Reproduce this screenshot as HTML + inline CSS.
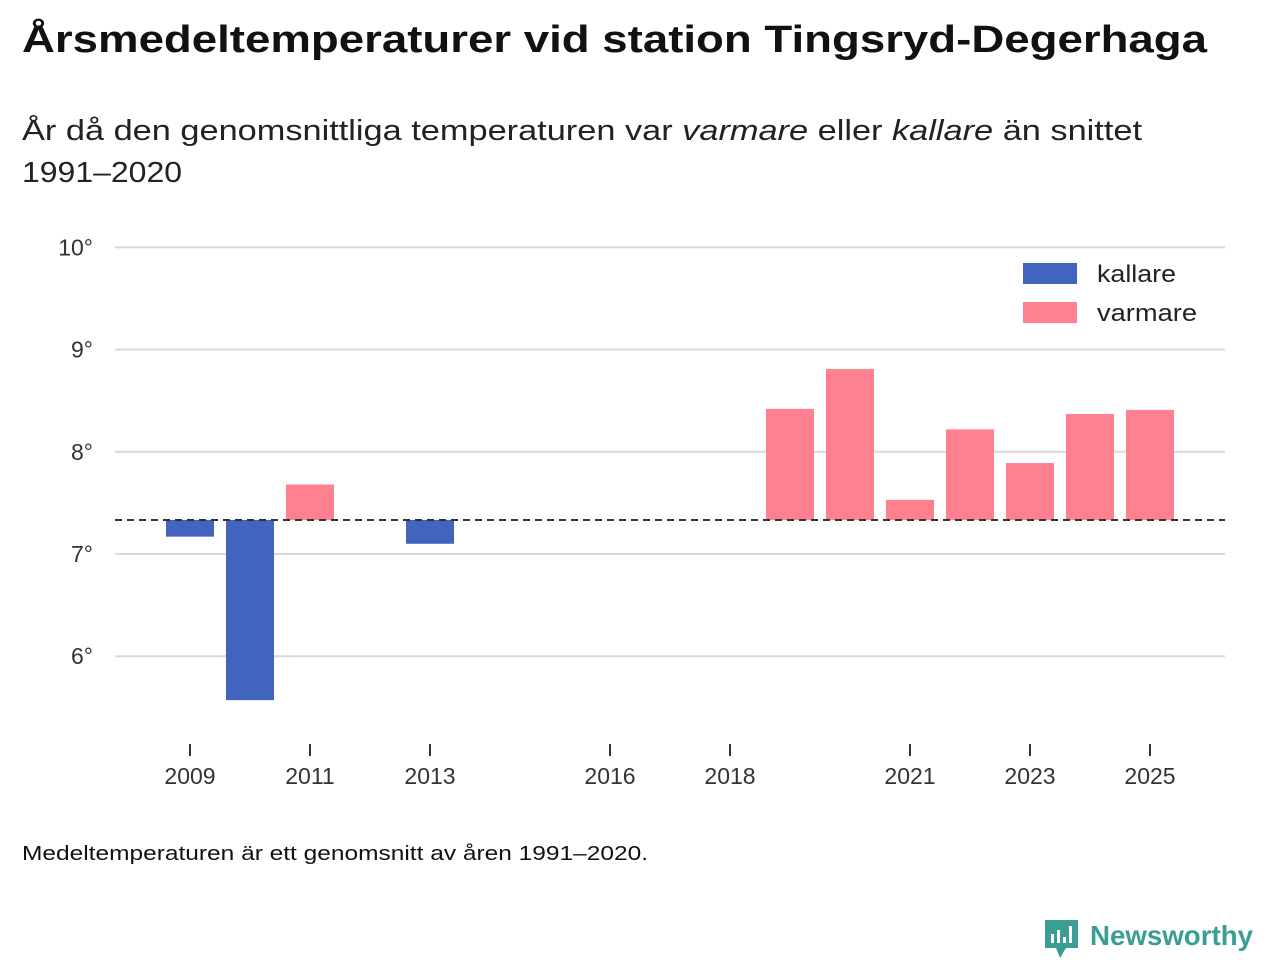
<!DOCTYPE html>
<html><head><meta charset="utf-8"><style>
body{margin:0;background:#fff;}
svg text{font-family:"Liberation Sans",sans-serif;}
</style></head><body>
<svg width="1280" height="960" xmlns="http://www.w3.org/2000/svg">
<text x="22" y="52" font-size="38" font-weight="bold" fill="#111" textLength="1185" lengthAdjust="spacingAndGlyphs">Årsmedeltemperaturer vid station Tingsryd-Degerhaga</text>
<text x="22" y="140" font-size="29" fill="#222" textLength="1120" lengthAdjust="spacingAndGlyphs">År då den genomsnittliga temperaturen var <tspan font-style="italic">varmare</tspan> eller <tspan font-style="italic">kallare</tspan> än snittet</text>
<text x="22" y="182" font-size="29" fill="#222" textLength="160" lengthAdjust="spacingAndGlyphs">1991–2020</text>
<g id="grid"></g><g id="bars"></g><g id="xaxis"></g>
<g>
<rect x="1023" y="263" width="54" height="21" fill="#4263be"/>
<text x="1097" y="282" font-size="24" fill="#222" textLength="79" lengthAdjust="spacingAndGlyphs">kallare</text>
<rect x="1023" y="302" width="54" height="21" fill="#ff808f"/>
<text x="1097" y="321" font-size="24" fill="#222" textLength="100" lengthAdjust="spacingAndGlyphs">varmare</text>
</g>
<text x="22" y="860" font-size="20" fill="#111" textLength="626" lengthAdjust="spacingAndGlyphs">Medeltemperaturen är ett genomsnitt av åren 1991–2020.</text>
<g>
<path d="M1045 920 h33 v28 h-12 l-6 10 l-4 -10 h-11 z" fill="#3a9e95"/>
<rect x="1051" y="934" width="3" height="9" fill="#fff"/><rect x="1057" y="930" width="3" height="13" fill="#fff"/><rect x="1063" y="937" width="3" height="6" fill="#fff"/><rect x="1069" y="926" width="3" height="17" fill="#fff"/>
<text x="1090" y="945" font-size="28" font-weight="bold" fill="#3a9e95" textLength="163" lengthAdjust="spacingAndGlyphs">Newsworthy</text>
</g>
</svg>
<script>
const years=[2009,2010,2011,2013,2019,2020,2021,2022,2023,2024,2025];
const temps=[7.17,5.57,7.68,7.10,8.42,8.81,7.53,8.22,7.89,8.37,8.41];
const baseline=7.333;
const yTicks=[6,7,8,9,10];
const xTicks=[2009,2011,2013,2016,2018,2021,2023,2025];
const NS="http://www.w3.org/2000/svg";
const y=v=>554-(v-7)*102.2;
const x=yr=>190+(yr-2009)*60;
function mk(t,a,p){const e=document.createElementNS(NS,t);for(const k in a)e.setAttribute(k,a[k]);p.appendChild(e);return e;}
const grid=document.getElementById('grid'),bars=document.getElementById('bars'),xa=document.getElementById('xaxis');
yTicks.forEach(v=>{
 const l=mk('line',{x1:115,x2:1225,y1:y(v),y2:y(v),stroke:'#d9d9d9','stroke-width':2},grid);
 
 
 const t=mk('text',{x:93,y:y(v)+8,'font-size':23,fill:'#333','text-anchor':'end'},grid);
 t.textContent=v+'°';
 
 
});
years.forEach((yr,i)=>{
 const v=temps[i];const top=Math.min(y(v),y(baseline)),h=Math.abs(y(v)-y(baseline));
 const r=mk('rect',{x:x(yr)-24,y:top,width:48,height:h,fill:v<baseline?'#4263be':'#ff808f'},bars);
 
 
});
const d=mk('line',{x1:115,x2:1225,y1:y(baseline),y2:y(baseline),stroke:'#333','stroke-width':2,'stroke-dasharray':'7,5'},bars);


xTicks.forEach(yr=>{
 const l=mk('line',{x1:x(yr),x2:x(yr),y1:744,y2:756,stroke:'#333','stroke-width':2},xa);
 
 
 const t=mk('text',{x:x(yr),y:784,'font-size':23,fill:'#333','text-anchor':'middle'},xa);
 t.textContent=yr;
 
 
});
</script>
</body></html>
